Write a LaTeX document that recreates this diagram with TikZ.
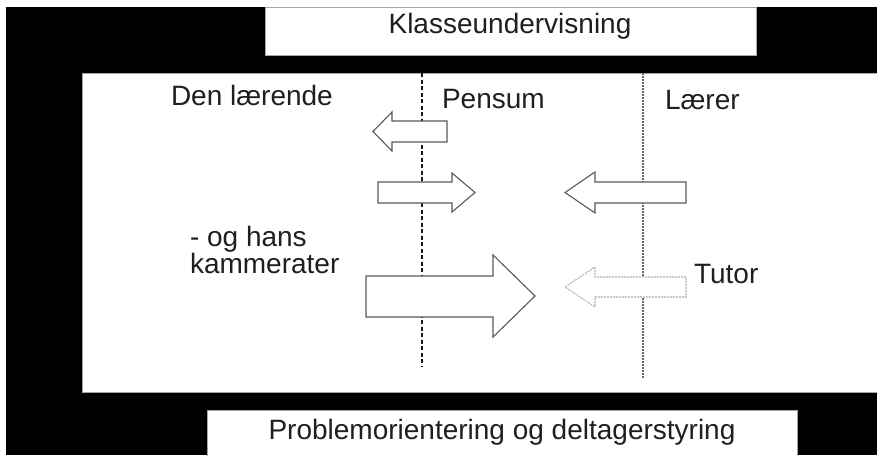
\documentclass[tikz,border=0pt]{standalone}
\usepackage{fontspec}
\setmainfont{Liberation Sans}
\begin{document}
\begin{tikzpicture}[x=1pt,y=-1pt,
  lbl/.style={inner sep=0pt,outer sep=0pt,font=\fontsize{28}{32}\selectfont,text=black!88},
  panel/.style={fill=white,draw=black!35,line width=0.8pt},
  blockarr/.style={draw=black!65,line width=1.1pt,fill=white,line join=miter},
  faintarr/.style={draw=black!30,line width=1.1pt,fill=white,dash pattern=on 2pt off 1pt},
  divA/.style={draw=black!90,line width=1.1pt,dash pattern=on 4pt off 2.5pt},
  divB/.style={draw=black!60,line width=1.3pt,dash pattern=on 1.5pt off 1.5pt}]
\useasboundingbox (0,0) rectangle (877,455);
\fill[white] (0,0) rectangle (877,455);
\fill[black] (6,7) rectangle (877,455);
% panels
\draw[panel] (265,7) rectangle (756,55);
\draw[panel] (82,73) rectangle (877,392);
\draw[panel] (207,410) rectangle (797,456);
% dividers
\coordinate (d1t) at (422,73);
\coordinate (d1b) at (422,367);
\coordinate (d2t) at (643,73);
\coordinate (d2b) at (643,378);
\draw[divA] (d1t) -- (d1b);
\draw[divB] (d2t) -- (d2b);
% arrows: small left
\draw[blockarr] (447,121) -- (392,121) -- (392,112) -- (373,131.5) -- (392,151) -- (392,142) -- (447,142) -- cycle;
% right (middle)
\draw[blockarr] (378,182) -- (452,182) -- (452,173) -- (475,192.5) -- (452,212) -- (452,203) -- (378,203) -- cycle;
% left from Laerer
\draw[blockarr] (686,182) -- (595,182) -- (595,172) -- (565,192.5) -- (595,213) -- (595,203) -- (686,203) -- cycle;
% big right
\draw[blockarr] (366,276) -- (493,276) -- (493,255) -- (535,296) -- (493,337) -- (493,317) -- (366,317) -- cycle;
% faint left from Tutor
\draw[faintarr] (686,277) -- (595,277) -- (595,267) -- (565,287) -- (595,307) -- (595,297) -- (686,297) -- cycle;
% labels
\node[lbl,anchor=base] (top) at (510,33) {Klasseundervisning};
\node[lbl,anchor=base] (bot) at (502,439) {Problemorientering og deltagerstyring};
\node[lbl,anchor=base west] (den) at (171,105) {Den lærende};
\node[lbl,anchor=base west] (pen) at (442,108) {Pensum};
\node[lbl,anchor=base west] (lar) at (665,109) {Lærer};
\node[lbl,anchor=base west] (og) at (190,246) {- og hans};
\node[lbl,anchor=base west] (kam) at (190,273) {kammerater};
\node[lbl,anchor=base west] (tut) at (694,283) {Tutor};
\end{tikzpicture}
\end{document}
